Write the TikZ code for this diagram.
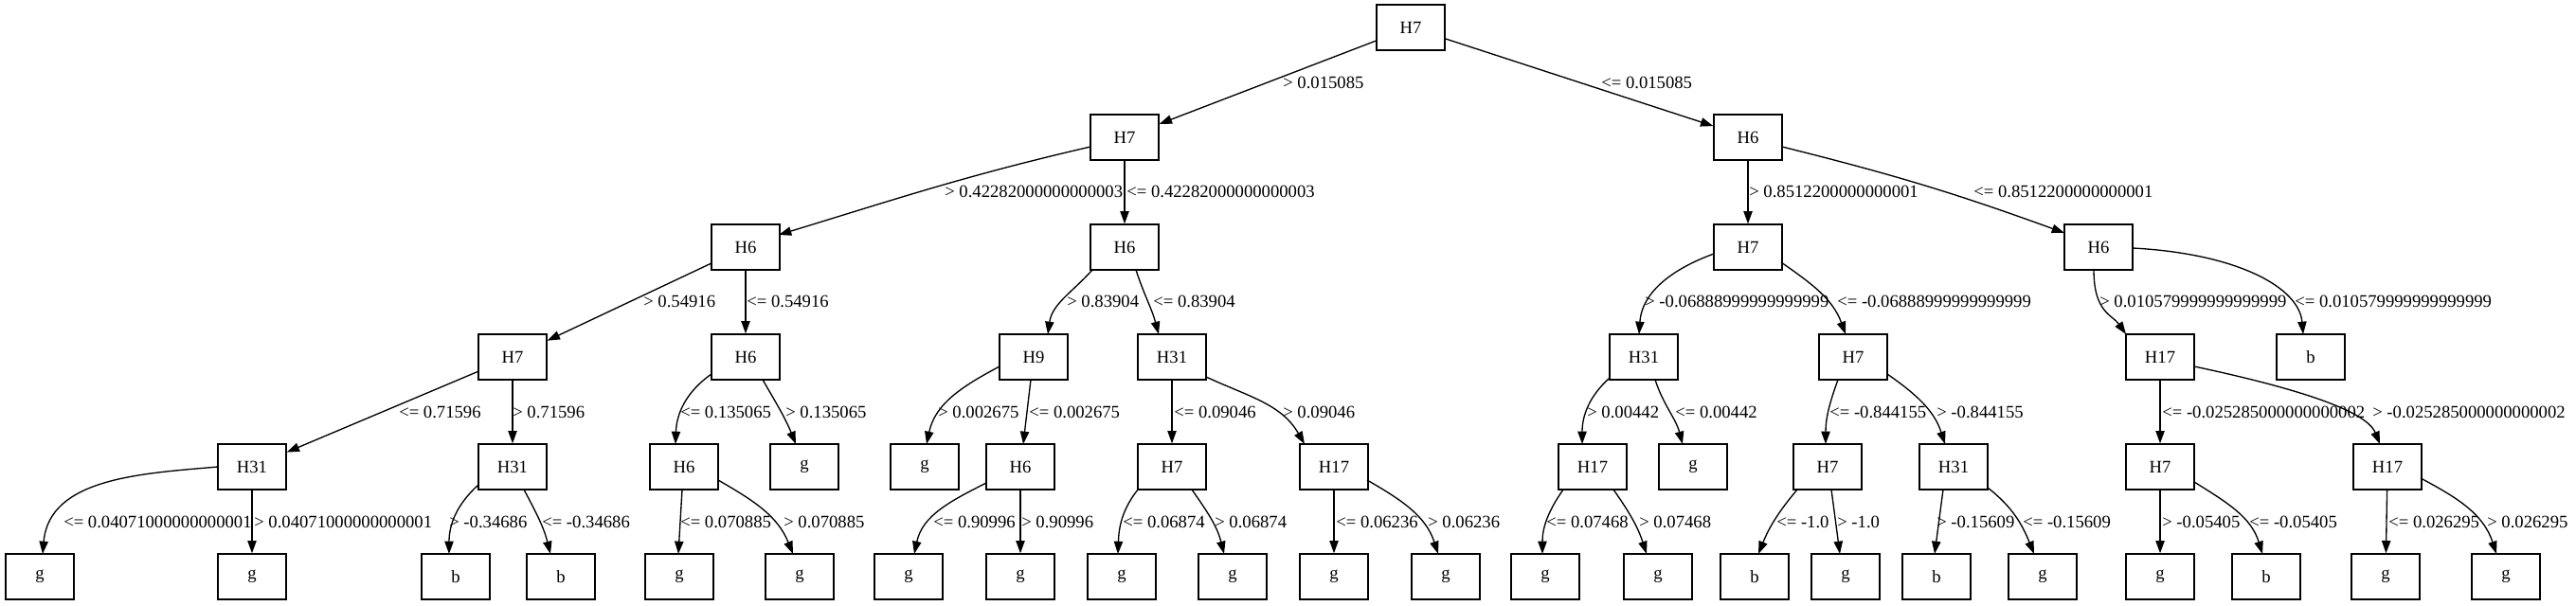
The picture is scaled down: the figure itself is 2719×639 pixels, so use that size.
\documentclass[tikz,border=0pt]{standalone}
\usepackage{fontspec}
\setmainfont{Liberation Serif}
\usetikzlibrary{calc,arrows.meta}
\begin{document}
\begin{tikzpicture}[x=0.75pt,y=0.75pt,
  box/.style={draw,line width=1pt,rectangle,minimum width=54pt,minimum height=36pt,inner sep=0pt,font=\fontsize{14}{16}\selectfont},
  lbl/.style={anchor=west,inner sep=0pt,font=\fontsize{14}{16}\selectfont},
  edge/.style={line width=1pt,-{Triangle[length=10pt,width=7pt]}}]
\useasboundingbox (0,0) rectangle (2719,-639);
% level 0
\node[box] (r) at (1489,-29) {H7};
% level 1
\node[box] (a) at (1187,-145) {H7};
\node[box] (b) at (1845,-145) {H6};
% level 2
\node[box] (aa) at (787,-261) {H6};
\node[box] (ab) at (1187,-261) {H6};
\node[box] (ba) at (1845,-261) {H7};
\node[box] (bb) at (2215,-261) {H6};
% level 3
\node[box] (aaa) at (541,-377) {H7};
\node[box] (aab) at (787,-377) {H6};
\node[box] (aba) at (1091,-377) {H9};
\node[box] (abb) at (1237,-377) {H31};
\node[box] (baa) at (1735,-377) {H31};
\node[box] (bab) at (1956,-377) {H7};
\node[box] (bba) at (2280,-377) {H17};
\node[box] (bbb) at (2439,-377) {b};
% level 4
\node[box] (aaaa) at (266,-493) {H31};
\node[box] (aaab) at (541,-493) {H31};
\node[box] (aaba) at (722,-493) {H6};
\node[box] (aabb) at (849,-493) {g};
\node[box] (abaa) at (976,-493) {g};
\node[box] (abab) at (1077,-493) {H6};
\node[box] (abba) at (1237,-493) {H7};
\node[box] (abbb) at (1408,-493) {H17};
\node[box] (baaa) at (1681,-493) {H17};
\node[box] (baab) at (1787,-493) {g};
\node[box] (baba) at (1929,-493) {H7};
\node[box] (babb) at (2062,-493) {H31};
\node[box] (bbaa) at (2280,-493) {H7};
\node[box] (bbab) at (2520,-493) {H17};
% level 5
\node[box] (aaaaa) at (42,-609) {g};
\node[box] (aaaab) at (266,-609) {g};
\node[box] (aaaba) at (481,-609) {b};
\node[box] (aaabb) at (592,-609) {b};
\node[box] (aabaa) at (717,-609) {g};
\node[box] (aabab) at (844,-609) {g};
\node[box] (ababa) at (959,-609) {g};
\node[box] (ababb) at (1077,-609) {g};
\node[box] (abbaa) at (1184,-609) {g};
\node[box] (abbab) at (1301,-609) {g};
\node[box] (abbba) at (1408,-609) {g};
\node[box] (abbbb) at (1526,-609) {g};
\node[box] (baaaa) at (1631,-609) {g};
\node[box] (baaab) at (1750,-609) {g};
\node[box] (babaa) at (1852,-609) {b};
\node[box] (babab) at (1948,-609) {g};
\node[box] (babba) at (2044,-609) {b};
\node[box] (babbb) at (2156,-609) {g};
\node[box] (bbaaa) at (2280,-609) {g};
\node[box] (bbaab) at (2392,-609) {b};
\node[box] (bbaba) at (2518,-609) {g};
\node[box] (bbabb) at (2645,-609) {g};

% edges level 0-1
\draw[edge] (r) -- (a);
\draw[edge] (r) -- (b);
% level 1-2
\draw[edge] ($(a)+(-36,-10)$) to[out=193,in=17] ($(aa)+(35,13)$);
\draw[edge] (a) -- (ab);
\draw[edge] (b) -- (ba);
\draw[edge] ($(b)+(36,-10)$) to[out=-14,in=160] ($(bb)+(-36,15)$);
% level 2-3
\draw[edge] (aa) -- (aaa);
\draw[edge] (aa) -- (aab);
\draw[edge] ($(ab)+(-34,-24)$) to[out=228,in=82] ($(aba)+(15,24)$);
\draw[edge] ($(ab)+(12,-24)$) to[out=-72,in=105] ($(abb)+(-14,24)$);
\draw[edge] ($(ba)+(-36,-7)$) to[out=200,in=86] ($(baa)+(-5,24)$);
\draw[edge] ($(ba)+(35,-16)$) to[out=-35,in=110] ($(bab)+(-8,24)$);
\draw[edge] ($(bb)+(-5,-24)$) .. controls +(-90:45) and +(125:25) .. ($(bba)+(-36,24)$);
\draw[edge] ($(bb)+(36,-1)$) .. controls +(-3:110) and +(95:50) .. ($(bbb)+(-8,24)$);
% level 3-4
\draw[edge] (aaa) -- (aaaa);
\draw[edge] (aaa) -- (aaab);
\draw[edge] ($(aab)+(-36,-18)$) to[out=215,in=88] ($(aaba)+(-9,24)$);
\draw[edge] ($(aab)+(18,-24)$) to[out=-60,in=112] ($(aabb)+(-9,24)$);
\draw[edge] ($(aba)+(-36,-10)$) to[out=208,in=78] ($(abaa)+(2,24)$);
\draw[edge] ($(aba)+(-3,-24)$) -- ($(abab)+(3,24)$);
\draw[edge] (abb) -- (abba);
\draw[edge] ($(abb)+(36,-21)$) to[out=-25,in=120] ($(abbb)+(-31,24)$);
\draw[edge] ($(baa)+(-36,-22)$) to[out=222,in=90] ($(baaa)+(-11,24)$);
\draw[edge] ($(baa)+(12,-24)$) to[out=-72,in=105] ($(baab)+(-11,24)$);
\draw[edge] ($(bab)+(-16,-24)$) to[out=-110,in=90] ($(baba)+(-2,24)$);
\draw[edge] ($(bab)+(36,-18)$) to[out=-35,in=108] ($(babb)+(-9,24)$);
\draw[edge] (bba) -- (bbaa);
\draw[edge] ($(bba)+(36,-10)$) .. controls +(-12:150) and +(112:30) .. ($(bbab)+(-8,24)$);
% level 4-5
\draw[edge] ($(aaaa)+(-36,0)$) to[out=185,in=85] ($(aaaaa)+(3,24)$);
\draw[edge] (aaaa) -- (aaaab);
\draw[edge] ($(aaab)+(-36,-19)$) to[out=222,in=90] ($(aaaba)+(-7,24)$);
\draw[edge] ($(aaab)+(12,-24)$) to[out=-62,in=104] ($(aaabb)+(-11,24)$);
\draw[edge] ($(aaba)+(-2,-24)$) -- ($(aabaa)+(-1,24)$);
\draw[edge] ($(aaba)+(36,-14)$) to[out=-30,in=112] ($(aabab)+(-7,24)$);
\draw[edge] ($(abab)+(-36,-17)$) to[out=207,in=78] ($(ababa)+(6,24)$);
\draw[edge] (abab) -- (ababb);
\draw[edge] ($(abba)+(-36,-24)$) to[out=232,in=88] ($(abbaa)+(-4,24)$);
\draw[edge] ($(abba)+(21,-24)$) to[out=-55,in=104] ($(abbab)+(-9,24)$);
\draw[edge] (abbb) -- (abbba);
\draw[edge] ($(abbb)+(35,-14)$) to[out=-30,in=108] ($(abbbb)+(-8,24)$);
\draw[edge] ($(baaa)+(-31,-24)$) to[out=235,in=90] ($(baaaa)+(-3,24)$);
\draw[edge] ($(baaa)+(22,-24)$) to[out=-55,in=108] ($(baaab)+(-12,24)$);
\draw[edge] ($(baba)+(-32,-24)$) to[out=230,in=68] ($(babaa)+(4,24)$);
\draw[edge] ($(baba)+(4,-24)$) -- ($(babab)+(-6,24)$);
\draw[edge] ($(babb)+(-11,-24)$) -- ($(babba)+(-2,24)$);
\draw[edge] ($(babb)+(36,-22)$) to[out=-38,in=112] ($(babbb)+(-9,24)$);
\draw[edge] (bbaa) -- (bbaaa);
\draw[edge] ($(bbaa)+(36,-16)$) to[out=-32,in=107] ($(bbaab)+(-4,24)$);
\draw[edge] (bbab) -- (bbaba);
\draw[edge] ($(bbab)+(35,-12)$) to[out=-28,in=108] ($(bbabb)+(-10,24)$);

% labels level 0-1
\node[lbl] (l1) at (1354,-87) {> 0.015085};
\node[lbl] (l2) at (1690,-87) {<= 0.015085};
% level 1-2
\node[lbl] (l3) at (997,-202) {> 0.42282000000000003};
\node[lbl] (l4) at (1189,-202) {<= 0.42282000000000003};
\node[lbl] (l5) at (1846,-202) {> 0.8512200000000001};
\node[lbl] (l6) at (2083,-202) {<= 0.8512200000000001};
% level 2-3
\node[lbl] (l7) at (679,-318) {> 0.54916};
\node[lbl] (l8) at (788,-318) {<= 0.54916};
\node[lbl] (l9) at (1126,-318) {> 0.83904};
\node[lbl] (l10) at (1217,-318) {<= 0.83904};
\node[lbl] (l11) at (1736,-318) {> -0.06888999999999999};
\node[lbl] (l12) at (1939,-318) {<= -0.06888999999999999};
\node[lbl] (l13) at (2216,-318) {> 0.010579999999999999};
\node[lbl] (l14) at (2422,-318) {<= 0.010579999999999999};
% level 3-4
\node[lbl] (l15) at (421,-435) {<= 0.71596};
\node[lbl] (l16) at (541,-435) {> 0.71596};
\node[lbl] (l17) at (718,-435) {<= 0.135065};
\node[lbl] (l18) at (829,-435) {> 0.135065};
\node[lbl] (l19) at (990,-435) {> 0.002675};
\node[lbl] (l20) at (1086,-435) {<= 0.002675};
\node[lbl] (l21) at (1239,-435) {<= 0.09046};
\node[lbl] (l22) at (1354,-435) {> 0.09046};
\node[lbl] (l23) at (1675,-435) {> 0.00442};
\node[lbl] (l24) at (1768,-435) {<= 0.00442};
\node[lbl] (l25) at (1931,-435) {<= -0.844155};
\node[lbl] (l26) at (2044,-435) {> -0.844155};
\node[lbl] (l27) at (2282,-435) {<= -0.025285000000000002};
\node[lbl] (l28) at (2504,-435) {> -0.025285000000000002};
% level 4-5
\node[lbl] (l29) at (67,-551) {<= 0.04071000000000001};
\node[lbl] (l30) at (268,-551) {> 0.04071000000000001};
\node[lbl] (l31) at (474,-551) {> -0.34686};
\node[lbl] (l32) at (572,-551) {<= -0.34686};
\node[lbl] (l33) at (718,-551) {<= 0.070885};
\node[lbl] (l34) at (827,-551) {> 0.070885};
\node[lbl] (l35) at (985,-551) {<= 0.90996};
\node[lbl] (l36) at (1078,-551) {> 0.90996};
\node[lbl] (l37) at (1185,-551) {<= 0.06874};
\node[lbl] (l38) at (1282,-551) {> 0.06874};
\node[lbl] (l39) at (1410,-551) {<= 0.06236};
\node[lbl] (l40) at (1507,-551) {> 0.06236};
\node[lbl] (l41) at (1632,-551) {<= 0.07468};
\node[lbl] (l42) at (1730,-551) {> 0.07468};
\node[lbl] (l43) at (1875,-551) {<= -1.0};
\node[lbl] (l44) at (1939,-551) {> -1.0};
\node[lbl] (l45) at (2044,-551) {> -0.15609};
\node[lbl] (l46) at (2135,-551) {<= -0.15609};
\node[lbl] (l47) at (2282,-551) {> -0.05405};
\node[lbl] (l48) at (2374,-551) {<= -0.05405};
\node[lbl] (l49) at (2521,-551) {<= 0.026295};
\node[lbl] (l50) at (2625,-551) {> 0.026295};
\end{tikzpicture}
\end{document}
